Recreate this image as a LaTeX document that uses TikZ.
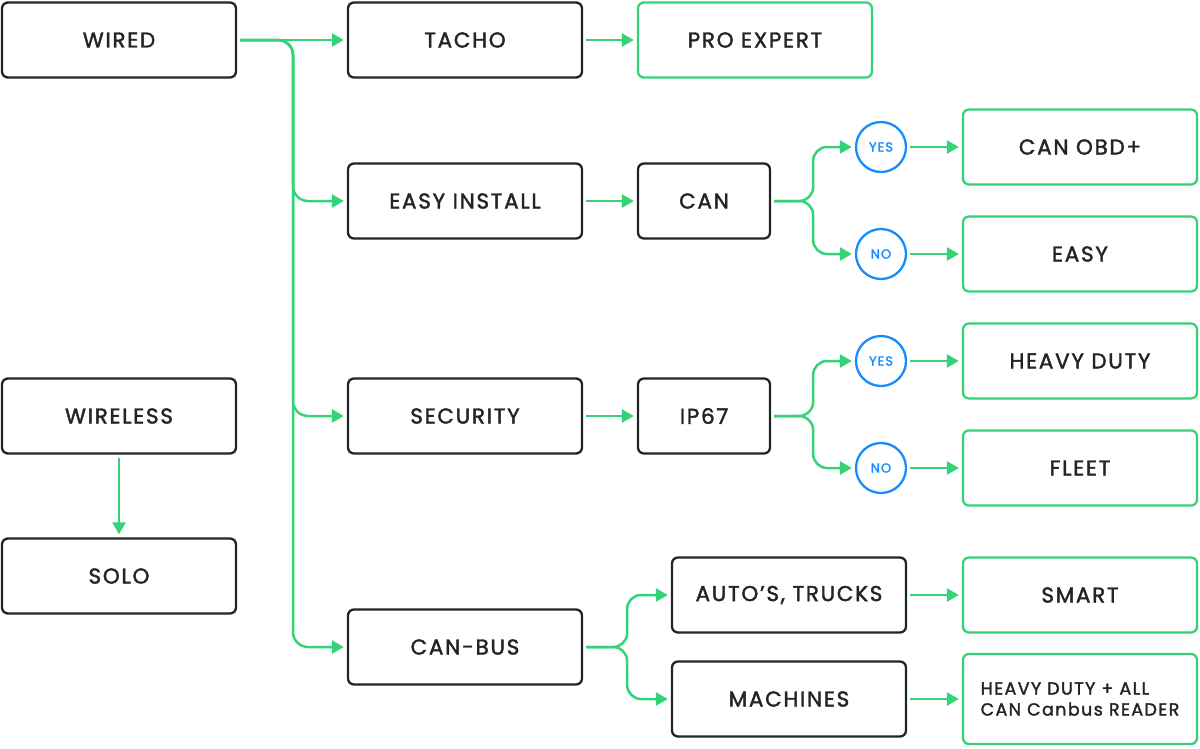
\documentclass[tikz,border=0pt]{standalone}
\usepackage{fontspec}
\setmainfont{Poppins}[FakeBold=1.8, LetterSpace=8]
\usetikzlibrary{arrows.meta}
\definecolor{gr}{RGB}{52,211,120}
\definecolor{bl}{RGB}{22,140,255}
\definecolor{dk}{RGB}{34,36,40}
\begin{document}
\begin{tikzpicture}[x=1pt,y=-1pt,
  box/.style={draw=dk, rounded corners=6pt, line width=2.3pt, minimum width=234pt, minimum height=75pt, inner sep=0pt, font=\fontsize{21.5}{23}\selectfont, text=dk},
  gbox/.style={box, draw=gr},
  sbox/.style={box, minimum width=132pt},
  yn/.style={circle, draw=bl, line width=2.3pt, minimum size=50pt, inner sep=0pt, font=\fontsize{13}{14}\selectfont, text=bl},
  arr/.style={draw=gr, line width=2.5pt, -{Triangle[length=12pt,width=13pt]}, shorten <=3pt, shorten >=3pt}
]
\useasboundingbox (0,0) rectangle (1200,748);
% left column
\node[box] (wired) at (119,40) {WIRED};
\node[box] (wireless) at (119,416) {WIRELESS};
\node[box] (solo) at (119,576) {SOLO};
% second column
\node[box] (tacho) at (465,40) {TACHO};
\node[box] (easy) at (465,201) {EASY INSTALL};
\node[box] (sec) at (465,416) {SECURITY};
\node[box] (canbus) at (465,647) {CAN-BUS};
% third column
\node[gbox] (pro) at (755,40) {PRO EXPERT};
\node[sbox] (can) at (704,201) {CAN};
\node[sbox] (ip) at (704,416) {IP67};
\node[box] (autos) at (789,595) {AUTO’S, TRUCKS};
\node[box] (mach) at (789,699) {MACHINES};
% circles
\node[yn] (yes1) at (881,147) {YES};
\node[yn] (no1) at (881,254) {NO};
\node[yn] (yes2) at (881,361) {YES};
\node[yn] (no2) at (881,468) {NO};
% right column
\node[gbox] (canobd) at (1080,147) {CAN OBD+};
\node[gbox] (easyr) at (1080,254) {EASY};
\node[gbox] (heavy) at (1080,361) {HEAVY DUTY};
\node[gbox] (fleet) at (1080,468) {FLEET};
\node[gbox] (smart) at (1080,595) {SMART};
\node[gbox, minimum height=90pt, font=\fontsize{17.5}{21}\selectfont, align=left] (hdall) at (1080,699) {HEAVY DUTY + ALL\\CAN Canbus READER};
% trunk
\coordinate (tr) at (293,40);
\draw[arr] (wired.east) -- (tacho.west);
\draw[arr, rounded corners=15pt] (wired.east) -- (tr) |- (easy.west);
\draw[arr, rounded corners=15pt] (wired.east) -- (tr) |- (sec.west);
\draw[arr, rounded corners=15pt] (wired.east) -- (tr) |- (canbus.west);
\draw[arr] (tacho.east) -- (pro.west);
\draw[arr] (easy.east) -- (can.west);
\draw[arr] (sec.east) -- (ip.west);
\draw[arr] (wireless.south) -- (solo.north);
% splits
\draw[arr, rounded corners=14pt] (can.east) -- ++(42,0) |- (yes1.west);
\draw[arr, rounded corners=14pt] (can.east) -- ++(42,0) |- (no1.west);
\draw[arr, rounded corners=14pt] (ip.east) -- ++(42,0) |- (yes2.west);
\draw[arr, rounded corners=14pt] (ip.east) -- ++(42,0) |- (no2.west);
\draw[arr, rounded corners=14pt] (canbus.east) -- ++(44,0) |- (autos.west);
\draw[arr, rounded corners=14pt] (canbus.east) -- ++(44,0) |- (mach.west);
\draw[arr] (yes1.east) -- (canobd.west);
\draw[arr] (no1.east) -- (easyr.west);
\draw[arr] (yes2.east) -- (heavy.west);
\draw[arr] (no2.east) -- (fleet.west);
\draw[arr] (autos.east) -- (smart.west);
\draw[arr] (mach.east) -- (hdall.west);
\end{tikzpicture}
\end{document}
